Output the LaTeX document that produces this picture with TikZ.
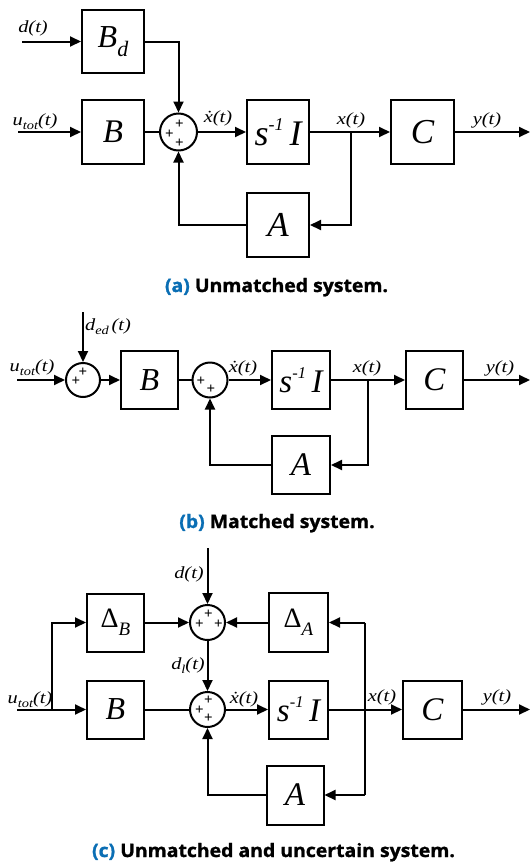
\documentclass[tikz,border=0pt]{standalone}
\usepackage{fontspec}
\setmainfont{Liberation Serif}
\newfontfamily\capfont[FakeStretch=1.05,BoldFeatures={FakeBold=1.2}]{Open Sans}
\newfontfamily\lblfamily[FakeStretch=1.2]{Liberation Serif}
\usetikzlibrary{arrows.meta}
\definecolor{capblue}{RGB}{10,110,180}
\newcommand\lbl[1]{{\lblfamily\itshape\fontsize{17}{17}\selectfont #1}}
\newcommand\subx[1]{\raisebox{-0.25em}{\fontsize{12}{12}\selectfont #1}}
\newcommand\bl[2][29]{{\itshape\fontsize{#1}{#1}\selectfont #2}}
\newcommand\bsub[1]{\raisebox{-0.3em}{\fontsize{22}{22}\selectfont #1}}
\newcommand\sinv[1]{{\itshape\fontsize{#1}{#1}\selectfont s\raisebox{0.42em}{\fontsize{0.5\dimexpr#1pt\relax}{1}\selectfont -1}\,I}}
\newcommand\dlt[1]{{\fontsize{28}{28}\selectfont \symbol{"0394}\raisebox{-0.3em}{\itshape\fontsize{19}{19}\selectfont #1}}}
\newcommand\xd{\.{x}}
\tikzset{
  ln/.style={line width=2pt},
  arr/.style={line width=2pt,-{Triangle[length=11pt,width=10pt]}},
  blk/.style={draw,line width=2pt,inner sep=0pt},
  sumc/.style={draw,circle,line width=2pt,inner sep=0pt,minimum size=#1},
  pl/.style={inner sep=0pt,font=\bfseries\fontsize{15}{15}\selectfont},
  lb/.style={anchor=base,inner sep=0pt},
  captxt/.style={anchor=base,inner sep=0pt,font=\capfont\bfseries\fontsize{18.5}{18.5}\selectfont}
}
\begin{document}
\begin{tikzpicture}[x=1pt,y=-1pt]
\useasboundingbox (0,0) rectangle (530,865);
% ---------------- (a)
\node[blk,minimum width=62pt,minimum height=63pt] (Bd) at (113,41.5) {\bl[32]{B\bsub{d}}};
\node[blk,minimum width=62pt,minimum height=64pt] (Ba) at (113,132) {\bl[33]{B}};
\node[sumc=37pt] (Sa) at (178.5,132) {};
\node[blk,minimum width=62pt,minimum height=64pt] (Ia) at (278,132) {\sinv{36}};
\node[blk,minimum width=63pt,minimum height=64pt] (Ca) at (422.5,132) {\bl[35]{C}};
\node[blk,minimum width=62pt,minimum height=64pt] (Aa) at (278,225) {\bl[35]{A}};
\coordinate (da) at (22,41.5);
\coordinate (ua) at (18,132);
\coordinate (ya) at (530,132);
\coordinate (xa) at (351,132);
\node[pl] (pa1) at ([shift={(1,-8)}]Sa.center) {+};
\node[pl] (pa2) at ([shift={(-9,2)}]Sa.center) {+};
\node[pl] (pa3) at ([shift={(1,11)}]Sa.center) {+};
\draw[arr] (da) -- (Bd.west);
\draw[arr] (Bd.east) -| (Sa.north);
\draw[arr] (ua) -- (Ba.west);
\draw[ln] (Ba.east) -- (Sa.west);
\draw[arr] (Sa.east) -- (Ia.west);
\draw[ln] (Ia.east) -- (xa);
\draw[arr] (xa) -- (Ca.west);
\draw[arr] (Ca.east) -- (ya);
\draw[arr] (xa) |- (Aa.east);
\draw[arr] (Aa.west) -| (Sa.south);
\node[lb] (lda) at (33,32.5) {\lbl{d(t)}};
\node[lb] (lua) at (35,125) {\lbl{u\subx{tot}(t)}};
\node[lb] (lxda) at (218,122) {\lbl{\xd(t)}};
\node[lb] (lxa) at (351,124) {\lbl{x(t)}};
\node[lb] (lya) at (487,124) {\lbl{y(t)}};
\node[captxt] (capa) at (276.5,292) {\textcolor{capblue}{(a)} Unmatched system.};
% ---------------- (b)
\node[sumc=34pt] (S1b) at (83,380) {};
\node[blk,minimum width=57pt,minimum height=58pt] (Bb) at (149.5,380) {\bl[32]{B}};
\node[sumc=35pt] (S2b) at (210,380) {};
\node[blk,minimum width=58pt,minimum height=58pt] (Ib) at (301,380) {\sinv{33}};
\node[blk,minimum width=57pt,minimum height=58pt] (Cb) at (434.5,380) {\bl[33]{C}};
\node[blk,minimum width=58pt,minimum height=58pt] (Ab) at (301,465) {\bl[33]{A}};
\coordinate (db) at (83,312);
\coordinate (ub) at (17,380);
\coordinate (yb) at (530,380);
\coordinate (xb) at (368,380);
\node[pl] (pb1) at ([shift={(0,-8)}]S1b.center) {+};
\node[pl] (pb2) at ([shift={(-7,1.5)}]S1b.center) {+};
\node[pl] (pb3) at ([shift={(-9,1)}]S2b.center) {+};
\node[pl] (pb4) at ([shift={(1,9)}]S2b.center) {+};
\draw[arr] (db) -- (S1b.north);
\draw[arr] (ub) -- (S1b.west);
\draw[arr] (S1b.east) -- (Bb.west);
\draw[ln] (Bb.east) -- (S2b.west);
\draw[arr] (S2b.east) -- (Ib.west);
\draw[ln] (Ib.east) -- (xb);
\draw[arr] (xb) -- (Cb.west);
\draw[arr] (Cb.east) -- (yb);
\draw[arr] (xb) |- (Ab.east);
\draw[arr] (Ab.west) -| (S2b.south);
\node[lb] (ldb) at (108,330) {\lbl{d\subx{ed}\,(t)}};
\node[lb] (lub) at (32,371) {\lbl{u\subx{tot}(t)}};
\node[lb] (lxdb) at (243,372) {\lbl{\xd(t)}};
\node[lb] (lxb) at (367,372) {\lbl{x(t)}};
\node[lb] (lyb) at (500,372) {\lbl{y(t)}};
\node[captxt] (capb) at (277,528) {\textcolor{capblue}{(b)} Matched system.};
% ---------------- (c)
\node[blk,minimum width=57pt,minimum height=58pt] (dBc) at (115.5,622.5) {\dlt{B}};
\node[blk,minimum width=57pt,minimum height=58pt] (Bc) at (115.5,709.5) {\bl[32]{B}};
\node[sumc=35pt] (SUc) at (207.5,622.5) {};
\node[sumc=35pt] (SLc) at (207.5,709.5) {};
\node[blk,minimum width=59pt,minimum height=59pt] (dAc) at (298.5,622.5) {\dlt{A}};
\node[blk,minimum width=59pt,minimum height=58pt] (Ic) at (298.5,709.5) {\sinv{33}};
\node[blk,minimum width=59pt,minimum height=58pt] (Cc) at (432.5,709.5) {\bl[33]{C}};
\node[blk,minimum width=57pt,minimum height=59pt] (Ac) at (295,795) {\bl[33]{A}};
\coordinate (dc) at (207.5,548);
\coordinate (uc) at (17,709.5);
\coordinate (ubr) at (52,709.5);
\coordinate (yc) at (530,709.5);
\coordinate (xc) at (365,709.5);
\coordinate (xtop) at (365,622.5);
\coordinate (xbot) at (365,795);
\node[pl] (pc1) at ([shift={(1,-8)}]SUc.center) {+};
\node[pl] (pc2) at ([shift={(-8,1.5)}]SUc.center) {+};
\node[pl] (pc3) at ([shift={(11,1.5)}]SUc.center) {+};
\node[pl] (pc4) at ([shift={(1,-9)}]SLc.center) {+};
\node[pl] (pc5) at ([shift={(-8,1)}]SLc.center) {+};
\node[pl] (pc6) at ([shift={(1,9)}]SLc.center) {+};
\draw[arr] (uc) -- (Bc.west);
\draw[arr] (ubr) |- (dBc.west);
\draw[arr] (dBc.east) -- (SUc.west);
\draw[arr] (dc) -- (SUc.north);
\draw[arr] (dAc.west) -- (SUc.east);
\draw[arr] (SUc.south) -- (SLc.north);
\draw[ln] (Bc.east) -- (SLc.west);
\draw[arr] (SLc.east) -- (Ic.west);
\draw[arr] (Ic.east) -- (Cc.west);
\draw[arr] (Cc.east) -- (yc);
\draw[ln] (xtop) -- (xbot);
\draw[arr] (xtop) -- (dAc.east);
\draw[arr] (xbot) -- (Ac.east);
\draw[arr] (Ac.west) -| (SLc.south);
\node[lb] (ldc) at (189,578) {\lbl{d(t)}};
\node[lb] (ldlc) at (188,669) {\lbl{d\subx{l}(t)}};
\node[lb] (luc) at (30,703) {\lbl{u\subx{tot}(t)}};
\node[lb] (lxdc) at (244,703) {\lbl{\xd(t)}};
\node[lb] (lxc) at (382,701) {\lbl{x(t)}};
\node[lb] (lyc) at (497,701) {\lbl{y(t)}};
\node[captxt] (capc) at (273.5,857) {\textcolor{capblue}{(c)} Unmatched and uncertain system.};
\end{tikzpicture}
\end{document}
